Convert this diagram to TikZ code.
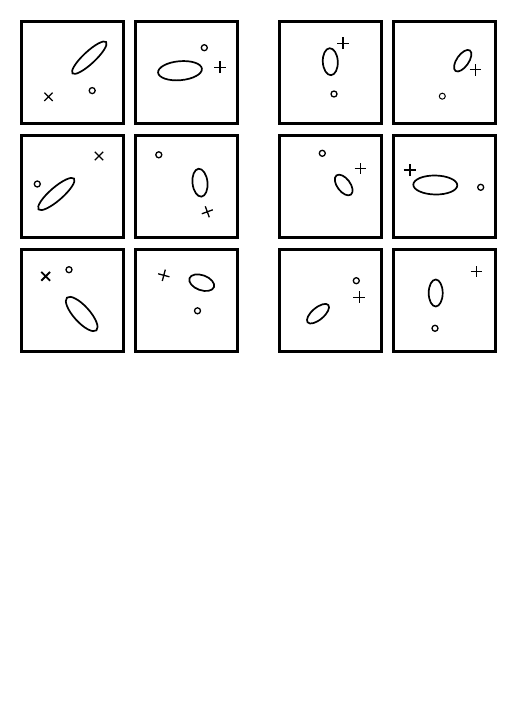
\documentclass[tikz,border=0pt]{standalone}
\usetikzlibrary{shapes.geometric,shapes.misc}

\begin{document}
\begin{tikzpicture}[x=1pt, y=-1pt,
    panel/.style={draw, rectangle, line width=2.2pt, minimum size=102pt, inner sep=0pt},
    blob/.style 2 args={draw, ellipse, line width=1.7pt, minimum width=#1, minimum height=#2, inner sep=0pt},
    dot/.style={draw, circle, line width=1.3pt, minimum size=6pt, inner sep=0pt},
    xmark/.style={draw, cross out, line width=1.3pt, minimum size=7pt, inner sep=0pt},
    pmark/.style={xmark, rotate=45}]

    \useasboundingbox (0,0) rectangle (526,704);

    % left group
    \node[panel] (p11) at (72.5,72.5)   {};
    \node[panel] (p12) at (186.5,72.5)  {};
    \node[panel] (p21) at (72.5,186.5)  {};
    \node[panel] (p22) at (186.5,186.5) {};
    \node[panel] (p31) at (72.5,300.5)  {};
    \node[panel] (p32) at (186.5,300.5) {};
    % right group
    \node[panel] (p13) at (330.5,72.5)  {};
    \node[panel] (p14) at (444.5,72.5)  {};
    \node[panel] (p23) at (330.5,186.5) {};
    \node[panel] (p24) at (444.5,186.5) {};
    \node[panel] (p33) at (330.5,300.5) {};
    \node[panel] (p34) at (444.5,300.5) {};

    % row 1
    \node[blob={46pt}{12pt}, rotate=43]   (e11) at (89.3,57.7)  {};
    \node[dot]                            (c11) at (92.2,90.6)  {};
    \node[xmark]                          (m11) at (48.5,96.8)  {};

    \node[blob={44pt}{19pt}, rotate=5]    (e12) at (180,70.7)   {};
    \node[dot]                            (c12) at (204.3,47.7) {};
    \node[pmark]                          (m12) at (220,67.3)   {};

    \node[blob={15pt}{27pt}, rotate=3]    (e13) at (330.3,61.7) {};
    \node[dot]                            (c13) at (334,94)     {};
    \node[pmark]                          (m13) at (343,43.3)   {};

    \node[blob={25pt}{12pt}, rotate=55]   (e14) at (462.7,60.7) {};
    \node[dot, line width=1pt]            (c14) at (442.3,96.2) {};
    \node[pmark]                          (m14) at (475.5,69.8) {};

    % row 2
    \node[blob={47pt}{13pt}, rotate=41]   (e21) at (56.3,194)   {};
    \node[dot]                            (c21) at (37.3,184)   {};
    \node[xmark]                          (m21) at (99,156)     {};

    \node[blob={15pt}{28pt}, rotate=6]    (e22) at (200,182.7)  {};
    \node[dot]                            (c22) at (158.8,154.8) {};
    \node[pmark, rotate=20]               (m22) at (207.3,211.8) {};

    \node[blob={24pt}{13pt}, rotate=-53]  (e23) at (343.7,185)  {};
    \node[dot]                            (c23) at (322.3,153.3) {};
    \node[pmark, line width=1pt]          (m23) at (360.3,168.3) {};

    \node[blob={44pt}{19pt}, rotate=-1]   (e24) at (435.3,185)  {};
    \node[dot]                            (c24) at (480.7,187.3) {};
    \node[pmark, line width=1.7pt]        (m24) at (409.7,170)  {};

    % row 3
    \node[blob={44pt}{16pt}, rotate=-48]  (e31) at (81.7,314)   {};
    \node[dot]                            (c31) at (69,269.7)   {};
    \node[xmark, line width=1.8pt]        (m31) at (45.7,276.3) {};

    \node[blob={26pt}{15pt}, rotate=-20]  (e32) at (201.7,282.7) {};
    \node[dot]                            (c32) at (197.5,310.8) {};
    \node[pmark, rotate=-15]              (m32) at (163.8,275.3) {};

    \node[blob={27pt}{12pt}, rotate=40]   (e33) at (318,313.7)  {};
    \node[dot]                            (c33) at (356.3,280.7) {};
    \node[pmark, line width=1pt]          (m33) at (359,297)    {};

    \node[blob={14pt}{27pt}, rotate=0]    (e34) at (435.7,293)  {};
    \node[dot]                            (c34) at (435,328.3)  {};
    \node[pmark, line width=1pt]          (m34) at (476.3,271.3) {};

\end{tikzpicture}
\end{document}
